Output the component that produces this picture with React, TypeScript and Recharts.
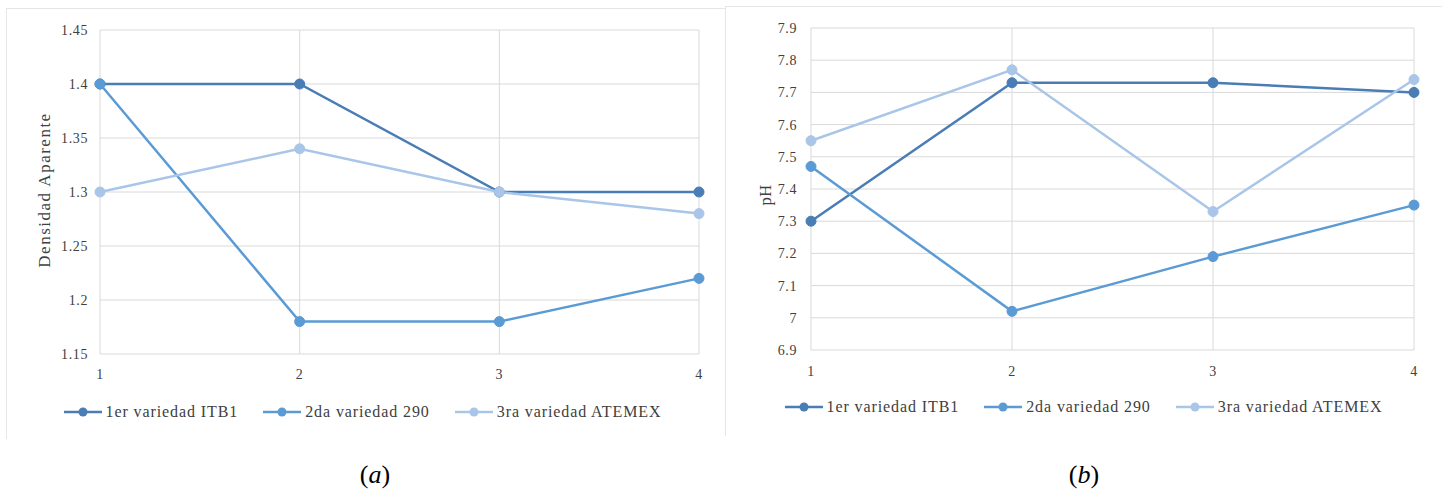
import React from 'react';
import { LineChart, Line, XAxis, YAxis, CartesianGrid, Legend, Label } from 'recharts';

// ---- data ----
const xValues = [1, 2, 3, 4];
const seriesNames = ['1er variedad ITB1', '2da variedad 290', '3ra variedad ATEMEX'];

const densidadITB1 = [1.4, 1.4, 1.3, 1.3];
const densidad290 = [1.4, 1.18, 1.18, 1.22];
const densidadATEMEX = [1.3, 1.34, 1.3, 1.28];

const phITB1 = [7.3, 7.73, 7.73, 7.7];
const ph290 = [7.47, 7.02, 7.19, 7.35];
const phATEMEX = [7.55, 7.77, 7.33, 7.74];

const densidadTicks = [1.15, 1.2, 1.25, 1.3, 1.35, 1.4, 1.45];
const phTicks = [6.9, 7, 7.1, 7.2, 7.3, 7.4, 7.5, 7.6, 7.7, 7.8, 7.9];

const colors = ['#4a7cb5', '#5b9bd5', '#a9c6e8'];
const keys = ['s1', 's2', 's3'];

const buildRows = (a: number[], b: number[], c: number[]) =>
  xValues.map((x, i) => ({ x, s1: a[i], s2: b[i], s3: c[i] }));

const densidadData = buildRows(densidadITB1, densidad290, densidadATEMEX);
const phData = buildRows(phITB1, ph290, phATEMEX);

const FONT = "'Liberation Serif', 'Times New Roman', 'DejaVu Serif', serif";
const tickStyle = { fill: '#404040', fontSize: 14, fontFamily: FONT, letterSpacing: 0.6 };

const LegendContent = () => (
  <div
    style={{
      display: 'flex',
      justifyContent: 'center',
      alignItems: 'center',
      height: 24,
      fontFamily: FONT,
      fontSize: 16,
      letterSpacing: 0.9,
      color: '#404040',
      whiteSpace: 'nowrap',
    }}
  >
    {seriesNames.map((n, i) => (
      <div key={n} style={{ display: 'flex', alignItems: 'center', marginRight: i < 2 ? 25 : 0 }}>
        <svg width={38} height={12} style={{ display: 'block' }}>
          <line x1={0} y1={6} x2={38} y2={6} stroke={colors[i]} strokeWidth={2.5} />
          <circle cx={19} cy={6} r={4.5} fill={colors[i]} />
        </svg>
        <span style={{ marginLeft: 4 }}>{n}</span>
      </div>
    ))}
  </div>
);

const yLabel = (text: string, cx: number, cy: number, size: number, spacing: number) => () => (
  <text
    x={cx}
    y={cy}
    transform={`rotate(-90 ${cx} ${cy})`}
    textAnchor="middle"
    dominantBaseline="central"
    style={{ fontFamily: FONT, fontSize: size, letterSpacing: spacing }}
    fill="#404040"
  >
    {text}
  </text>
);

interface PanelProps {
  data: any[];
  width: number;
  height: number;
  margin: { top: number; right: number; left: number; bottom: number };
  yWidth: number;
  domain: [number, number];
  ticks: number[];
  yTickMargin: number;
  xTickMargin: number;
  legendTop: number;
  label: () => React.ReactElement;
}

const Panel = (p: PanelProps) => (
  <LineChart width={p.width} height={p.height} data={p.data} margin={p.margin} style={{ fontFamily: FONT }}>
    <CartesianGrid stroke="#d9d9d9" strokeWidth={1} />
    <XAxis
      dataKey="x"
      type="number"
      domain={[1, 4]}
      ticks={xValues}
      interval={0}
      tickLine={false}
      axisLine={false}
      height={30}
      tickMargin={p.xTickMargin}
      tick={tickStyle}
    />
    <YAxis
      type="number"
      domain={p.domain}
      ticks={p.ticks}
      interval={0}
      width={p.yWidth}
      tickLine={false}
      axisLine={false}
      tickMargin={p.yTickMargin}
      tick={tickStyle}
      allowDataOverflow
    >
      <Label content={p.label} />
    </YAxis>
    <Legend
      content={LegendContent}
      wrapperStyle={{ top: p.legendTop, bottom: 'auto', left: 0, width: p.width, height: 24 }}
    />
    {keys.map((k, i) => (
      <Line
        key={k}
        dataKey={k}
        name={seriesNames[i]}
        stroke={colors[i]}
        strokeWidth={2.5}
        dot={{ r: 5, fill: colors[i], stroke: colors[i], strokeWidth: 1 }}
        activeDot={false}
        isAnimationActive={false}
      />
    ))}
  </LineChart>
);

export default function App() {
  return (
    <div
      style={{
        position: 'absolute',
        left: 0,
        top: 0,
        width: 1442,
        height: 494,
        background: '#ffffff',
        overflow: 'hidden',
      }}
    >
      {/* faint frames */}
      <div
        style={{
          position: 'absolute',
          left: 6,
          top: 8,
          width: 719,
          height: 430,
          borderLeft: '1px solid #e6e6e6',
          borderTop: '1px solid #e6e6e6',
        }}
      />
      <div
        style={{
          position: 'absolute',
          left: 725,
          top: 6,
          width: 717,
          height: 429,
          borderLeft: '1px solid #e6e6e6',
          borderTop: '1px solid #e6e6e6',
        }}
      />
      <div style={{ position: 'absolute', left: 0, top: 0 }}>
        <Panel
          data={densidadData}
          width={725}
          height={440}
          margin={{ top: 30, right: 26, left: 0, bottom: 32 }}
          yWidth={100}
          domain={[1.15, 1.45]}
          ticks={densidadTicks}
          yTickMargin={6}
          xTickMargin={9}
          legendTop={400}
          label={yLabel('Densidad Aparente', 44, 190, 17, 1.5)}
        />
      </div>
      <div style={{ position: 'absolute', left: 725, top: 0 }}>
        <Panel
          data={phData}
          width={717}
          height={440}
          margin={{ top: 28, right: 28, left: 0, bottom: 36 }}
          yWidth={86}
          domain={[6.9, 7.9]}
          ticks={phTicks}
          yTickMargin={8}
          xTickMargin={10}
          legendTop={395}
          label={yLabel('pH', 40, 195, 17, 0)}
        />
      </div>
      <div
        style={{
          position: 'absolute',
          left: 275,
          width: 200,
          top: 459,
          textAlign: 'center',
          fontFamily: FONT,
          fontSize: 26,
          color: '#000',
          lineHeight: '32px',
        }}
      >
        (<i>a</i>)
      </div>
      <div
        style={{
          position: 'absolute',
          left: 984,
          width: 200,
          top: 459,
          textAlign: 'center',
          fontFamily: FONT,
          fontSize: 26,
          color: '#000',
          lineHeight: '32px',
        }}
      >
        (<i>b</i>)
      </div>
    </div>
  );
}
